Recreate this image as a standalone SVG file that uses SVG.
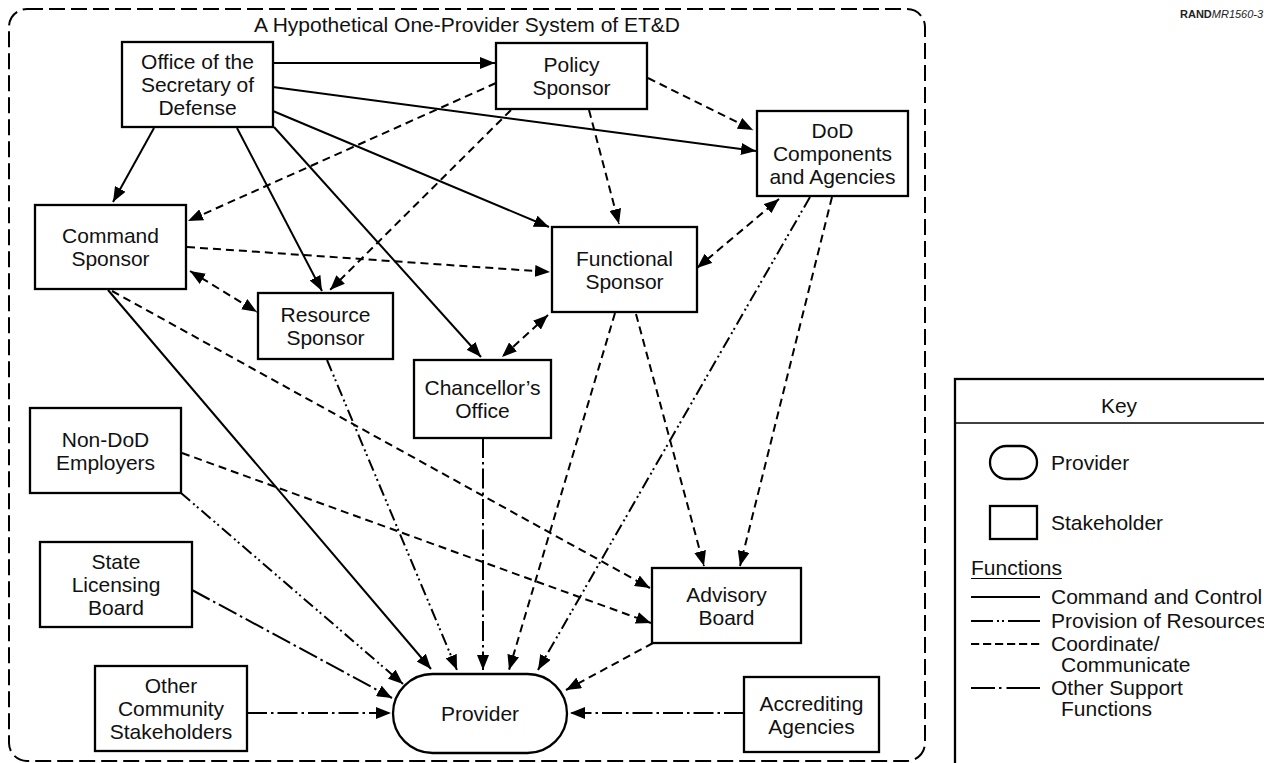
<svg xmlns="http://www.w3.org/2000/svg" width="1264" height="763" viewBox="0 0 1264 763">
<defs>
<marker id="ah" viewBox="0 0 15 12" refX="15" refY="6" markerWidth="15" markerHeight="12" markerUnits="userSpaceOnUse" orient="auto-start-reverse">
<path d="M0,0 L15,6 L0,12 Z" fill="#000"/>
</marker>
<style>
.t{font-family:"Liberation Sans",Arial,Helvetica,sans-serif;font-size:21px;fill:#111;text-anchor:middle}
.tl{font-family:"Liberation Sans",Arial,Helvetica,sans-serif;font-size:21px;fill:#111;text-anchor:start}
.box{fill:#fff;stroke:#000;stroke-width:2.3}
.c{fill:none;stroke:#000;stroke-width:2}
.cc{marker-end:url(#ah)}
.dd{stroke-dasharray:8 5}
.pr{stroke-dasharray:12 4 2 3 2 4}
.os{stroke-dasharray:20 4 2.5 4}
.both{marker-start:url(#ah);marker-end:url(#ah)}
</style>
</defs>
<rect width="1264" height="763" fill="#fff"/>
<rect id="system-boundary" x="9" y="9" width="916" height="752" rx="18" fill="none" stroke="#000" stroke-width="2" stroke-dasharray="16 6"/>
<text class="t" x="467" y="32">A Hypothetical One-Provider System of ET&amp;D</text>
<text x="1180" y="18" font-family="Liberation Sans, Arial, sans-serif" font-size="11" fill="#222"><tspan font-weight="bold">RAND</tspan><tspan font-style="italic">MR1560-3</tspan></text>

<g id="connectors">
<!-- command and control -->
<path class="c cc" d="M273,63 L495,63"/>
<path class="c cc" d="M273,87 L756,151"/>
<path class="c cc" d="M273,111 L549,227"/>
<path class="c cc" d="M154,128 L113,202"/>
<path class="c cc" d="M237,128 L322,291"/>
<path class="c cc" d="M274,127 L481,357"/>
<path class="c cc" d="M108,290 L431,669"/>
<!-- coordinate / communicate -->
<path class="c cc dd" d="M496,83 L188,221"/>
<path class="c cc dd" d="M511,110 L330,290"/>
<path class="c cc dd" d="M589,110 L619,224"/>
<path class="c cc dd" d="M648,78 L753,130"/>
<path class="c cc dd" d="M187,247 L550,272"/>
<path class="c both dd" d="M190,271 L257,312"/>
<path class="c cc dd" d="M112,291 L650,588"/>
<path class="c cc dd" d="M182,453 L651,623"/>
<path class="c both dd" d="M548,315 L502,357"/>
<path class="c both dd" d="M697,268 L779,199"/>
<path class="c cc dd" d="M615,313 L509,670"/>
<path class="c cc dd" d="M636,314 L704,566"/>
<path class="c cc dd" d="M832,197 L740,566"/>
<path class="c cc dd" d="M653,643 L566,690"/>
<!-- provision of resources -->
<path class="c cc pr" d="M810,197 L538,670"/>
<path class="c cc pr" d="M327,360 L457,670"/>
<path class="c cc pr" d="M181,493 L403,684"/>
<!-- other support -->
<path class="c cc os" d="M483,438 L483,670"/>
<path class="c cc os" d="M192,590 L392,698"/>
<path class="c cc os" d="M247,713 L391,713"/>
<path class="c cc os" d="M744,713 L570,713"/>
</g>

<g id="osd"><rect class="box" x="122" y="42" width="151" height="85"/>
<text class="t" x="197.5" y="69">Office of the</text><text class="t" x="197.5" y="92">Secretary of</text><text class="t" x="197.5" y="115">Defense</text></g>
<g id="policy-sponsor"><rect class="box" x="496" y="43" width="151" height="66"/>
<text class="t" x="571.5" y="72">Policy</text><text class="t" x="571.5" y="95">Sponsor</text></g>
<g id="dod-components"><rect class="box" x="757" y="111" width="151" height="85"/>
<text class="t" x="832.5" y="138">DoD</text><text class="t" x="832.5" y="161">Components</text><text class="t" x="832.5" y="184">and Agencies</text></g>
<g id="command-sponsor"><rect class="box" x="35" y="205" width="151" height="84"/>
<text class="t" x="110.5" y="243">Command</text><text class="t" x="110.5" y="266">Sponsor</text></g>
<g id="functional-sponsor"><rect class="box" x="552" y="227" width="145" height="85"/>
<text class="t" x="624.5" y="265.5">Functional</text><text class="t" x="624.5" y="288.5">Sponsor</text></g>
<g id="resource-sponsor"><rect class="box" x="258" y="293" width="135" height="66"/>
<text class="t" x="325.5" y="322">Resource</text><text class="t" x="325.5" y="345">Sponsor</text></g>
<g id="chancellors-office"><rect class="box" x="414" y="360" width="137" height="78"/>
<text class="t" x="482.5" y="395">Chancellor’s</text><text class="t" x="482.5" y="418">Office</text></g>
<g id="non-dod-employers"><rect class="box" x="30" y="408" width="151" height="85"/>
<text class="t" x="105.5" y="446.5">Non-DoD</text><text class="t" x="105.5" y="469.5">Employers</text></g>
<g id="state-licensing-board"><rect class="box" x="40" y="542" width="152" height="85"/>
<text class="t" x="116" y="569">State</text><text class="t" x="116" y="592">Licensing</text><text class="t" x="116" y="615">Board</text></g>
<g id="other-community"><rect class="box" x="95" y="666" width="152" height="85"/>
<text class="t" x="171" y="693">Other</text><text class="t" x="171" y="716">Community</text><text class="t" x="171" y="739">Stakeholders</text></g>
<g id="advisory-board"><rect class="box" x="652" y="568" width="149" height="75"/>
<text class="t" x="726.5" y="601.5">Advisory</text><text class="t" x="726.5" y="624.5">Board</text></g>
<g id="accrediting-agencies"><rect class="box" x="744" y="677" width="135" height="75"/>
<text class="t" x="811.5" y="710.5">Accrediting</text><text class="t" x="811.5" y="733.5">Agencies</text></g>
<g id="provider"><rect class="box" x="393" y="674" width="174" height="79" rx="39.5"/>
<text class="t" x="480" y="721">Provider</text></g>

<g id="key">
<rect x="955" y="379" width="400" height="500" fill="#fff" stroke="#000" stroke-width="2.3"/>
<line x1="955" y1="423" x2="1264" y2="423" stroke="#000" stroke-width="1.5"/>
<text class="t" x="1119" y="413">Key</text>
<rect x="990" y="446" width="47" height="33" rx="16.5" fill="#fff" stroke="#000" stroke-width="2.3"/>
<text class="tl" x="1051" y="470">Provider</text>
<rect x="990" y="506" width="47" height="33" fill="#fff" stroke="#000" stroke-width="2.3"/>
<text class="tl" x="1051" y="530">Stakeholder</text>
<text class="tl" x="971" y="575">Functions</text>
<line x1="971" y1="578.5" x2="1062" y2="578.5" stroke="#000" stroke-width="1.2"/>
<line x1="971" y1="597" x2="1040" y2="597" stroke="#000" stroke-width="2"/>
<text class="tl" x="1051" y="604">Command and Control</text>
<line x1="971" y1="621" x2="1040" y2="621" stroke="#000" stroke-width="2" stroke-dasharray="22 4 2 3 2 4 40"/>
<text class="tl" x="1051" y="628">Provision of Resources</text>
<line x1="971" y1="644" x2="1040" y2="644" stroke="#000" stroke-width="2" stroke-dasharray="8.2 3.8"/>
<text class="tl" x="1051" y="651">Coordinate/</text>
<text class="tl" x="1061" y="672">Communicate</text>
<line x1="971" y1="688" x2="1040" y2="688" stroke="#000" stroke-width="2" stroke-dasharray="24 4 2.5 5 40"/>
<text class="tl" x="1051" y="695">Other Support</text>
<text class="tl" x="1061" y="716">Functions</text>
</g>
</svg>
